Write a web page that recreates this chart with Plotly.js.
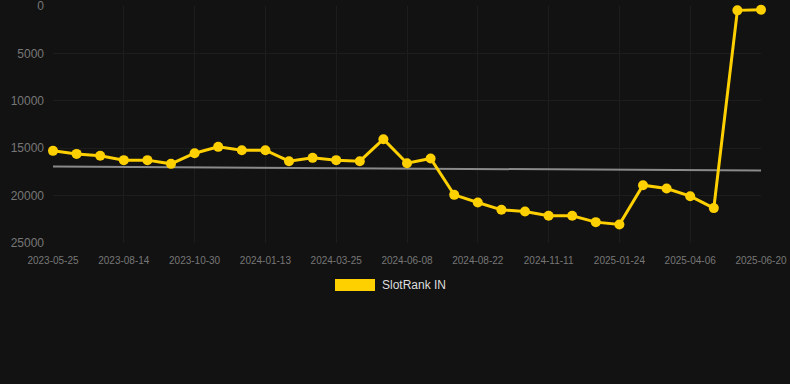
<!DOCTYPE html>
<html>
<head>
<meta charset="utf-8">
<script src="https://cdn.plot.ly/plotly-3.0.1.min.js"></script>
<style>
html,body{margin:0;padding:0;background:#121212;}
#chart{width:790px;height:384px;}
</style>
</head>
<body>
<div id="chart"></div>
<script>
// Tick labels shown on the x axis (every third observation)
var tickLabels = ["2023-05-25","2023-08-14","2023-10-30","2024-01-13","2024-03-25","2024-06-08","2024-08-22","2024-11-11","2025-01-24","2025-04-06","2025-06-20"];
// Rank values (SlotRank IN), one per observation
var rankValues = [15280,15600,15800,16260,16260,16650,15530,14860,15210,15210,16370,16020,16260,16370,14050,16580,16090,19920,20730,21500,21670,22130,22130,22800,23050,18900,19250,20060,21320,460,390];
// Trend line start and end values
var trendValues = [16930, 17360];
// Y axis tick values
var yTicks = [0, 5000, 10000, 15000, 20000, 25000];
var seriesName = "SlotRank IN";

var idx = rankValues.map(function(_, i){ return i; });
var tickVals = tickLabels.map(function(_, i){ return i * 3; });

var traces = [
  {
    x: [0, rankValues.length - 1],
    y: trendValues,
    mode: "lines",
    line: {color: "#8a8a8a", width: 2},
    hoverinfo: "skip",
    showlegend: false,
    cliponaxis: false
  },
  {
    x: idx,
    y: rankValues,
    mode: "lines+markers",
    name: seriesName,
    line: {color: "#FFD000", width: 3},
    marker: {color: "#FFD000", size: 10},
    showlegend: false,
    cliponaxis: false
  }
];

var L = 53, R = 761, T = 6, B = 243;
function px2x(p){ return (p - L) / (R - L); }
function py2y(p){ return (B - p) / (B - T); }

var layout = {
  width: 790, height: 384,
  paper_bgcolor: "#121212",
  plot_bgcolor: "#121212",
  margin: {l: L, r: 790 - R, t: T, b: 384 - B},
  font: {family: "Liberation Sans, Arial, sans-serif", color: "#777777"},
  showlegend: false,
  xaxis: {
    range: [0, rankValues.length - 1],
    tickvals: tickVals,
    ticktext: tickLabels,
    tickfont: {size: 10, color: "#777777"},
    showgrid: true,
    gridcolor: "#1d1d1d",
    zeroline: false,
    showline: false,
    ticks: "",
    ticklabelstandoff: 10,
    ticklabeloverflow: "allow"
  },
  yaxis: {
    range: [25000, 0],
    tickvals: yTicks,
    ticktext: yTicks.map(String),
    tickfont: {size: 12, color: "#777777"},
    showgrid: true,
    gridcolor: "#1d1d1d",
    zeroline: false,
    showline: false,
    ticks: "",
    ticklabelstandoff: 8,
    ticklabeloverflow: "allow"
  },
  shapes: [
    {type: "rect", xref: "paper", yref: "paper",
     x0: px2x(335), x1: px2x(375), y0: py2y(279), y1: py2y(291),
     fillcolor: "#FFD000", line: {width: 0}}
  ],
  annotations: [
    {xref: "paper", yref: "paper", x: px2x(380), y: py2y(285),
     xanchor: "left", yanchor: "middle", showarrow: false,
     text: seriesName, font: {size: 12, color: "#dddddd"}}
  ]
};

Plotly.newPlot("chart", traces, layout, {displayModeBar: false, staticPlot: true});
</script>
</body>
</html>
